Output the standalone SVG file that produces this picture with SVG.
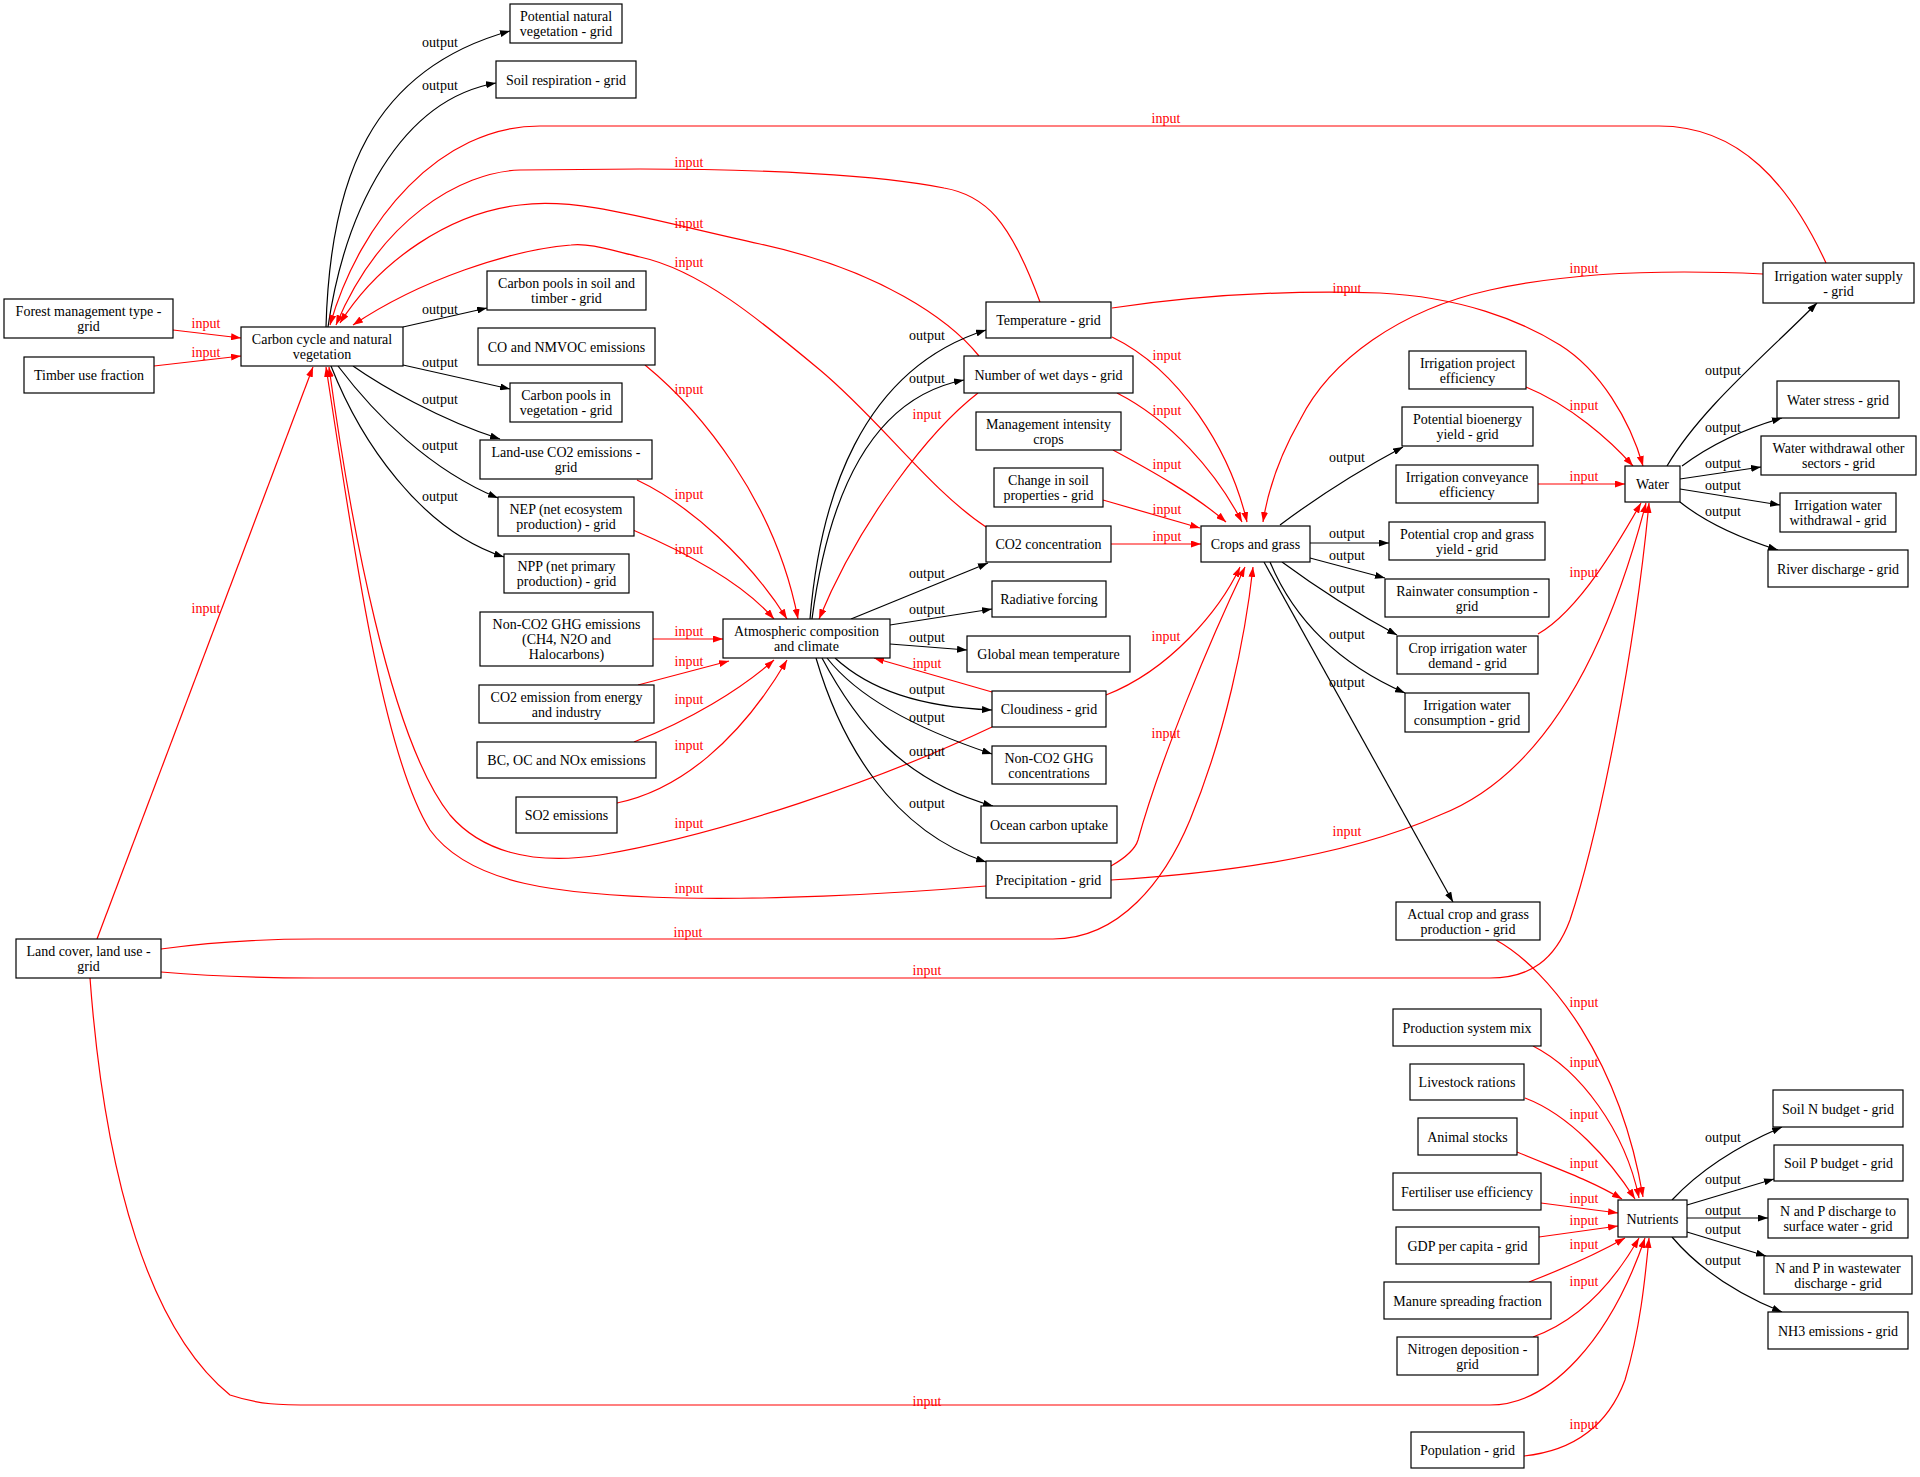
<svg xmlns="http://www.w3.org/2000/svg" width="1920" height="1477" viewBox="0 0 1920 1477">
<style>
.n rect{fill:#fff;stroke:#000;stroke-width:1.2}
.n text,.lb text{font-family:"Liberation Serif","Times New Roman",serif;font-size:14px;text-anchor:middle}
.n text{fill:#000}
.e path{fill:none;stroke-width:1.2}
.e .i{stroke:#f00;marker-end:url(#ar)}
.e .o{stroke:#000;marker-end:url(#ab)}
.lb .li{fill:#f00}
.lb .lo{fill:#000}
</style>
<defs>
<marker id="ab" viewBox="0 0 10 7" refX="10" refY="3.5" markerWidth="10" markerHeight="7" markerUnits="userSpaceOnUse" orient="auto"><path d="M0,0 L10,3.5 L0,7 z" fill="#000"/></marker>
<marker id="ar" viewBox="0 0 10 7" refX="10" refY="3.5" markerWidth="10" markerHeight="7" markerUnits="userSpaceOnUse" orient="auto"><path d="M0,0 L10,3.5 L0,7 z" fill="#f00"/></marker>
</defs>
<rect width="1920" height="1477" fill="#fff"/>
<g id="connectors" class="e">
<path class="o" d="M326,327 C330,180 370,70 510,31"/>
<path class="o" d="M328,327 C345,210 400,100 496,83"/>
<path class="o" d="M403,327 L487,308"/>
<path class="o" d="M403,365 L510,389"/>
<path class="o" d="M353,366 C380,385 440,420 500,439"/>
<path class="o" d="M338,366 C375,415 430,470 498,498"/>
<path class="o" d="M331,366 C360,440 420,530 504,557"/>
<path class="i" d="M173,330 L241,338"/>
<path class="i" d="M154,366 L241,356"/>
<path class="i" d="M1826,263 C1790,185 1740,126 1659,126 L540,126 C440,126 360,220 330,325"/>
<path class="i" d="M1040,302 C1010,220 985,195 944,188 C880,175 760,169 640,169 L520,170 C460,172 380,220 336,325"/>
<path class="i" d="M979,356 C950,320 880,270 760,244 C650,220 580,197 520,205 C450,213 380,260 340,323"/>
<path class="i" d="M986,527 C930,490 880,420 820,370 C760,320 700,270 640,257 C610,250 590,243 571,245 C510,250 420,280 353,325"/>
<path class="i" d="M97,939 L313,367"/>
<path class="i" d="M992,727 C880,780 720,835 600,855 C530,866 480,850 450,815 C390,740 350,520 329,367"/>
<path class="i" d="M986,886 C880,895 760,900 680,898 C560,895 470,885 430,830 C380,750 350,520 326,367"/>
<path class="i" d="M645,365 C700,410 775,500 798,619"/>
<path class="i" d="M637,480 C690,505 750,560 787,619"/>
<path class="i" d="M633,530 C680,550 740,580 774,619"/>
<path class="i" d="M978,393 C930,430 860,520 819,619"/>
<path class="i" d="M653,639 L723,639"/>
<path class="i" d="M638,685 L729,661"/>
<path class="i" d="M634,742 C690,720 740,690 774,660"/>
<path class="i" d="M617,803 C680,790 740,740 787,660"/>
<path class="i" d="M992,692 L874,658"/>
<path class="o" d="M810,619 C820,500 860,370 986,330"/>
<path class="o" d="M812,619 C825,520 860,400 964,380"/>
<path class="o" d="M851,619 L988,563"/>
<path class="o" d="M890,625 L992,609"/>
<path class="o" d="M890,644 L967,650"/>
<path class="o" d="M835,658 C870,690 920,707 992,710"/>
<path class="o" d="M827,658 C860,700 920,730 992,754"/>
<path class="o" d="M822,658 C855,720 900,780 993,806"/>
<path class="o" d="M816,658 C840,740 890,830 986,862"/>
<path class="i" d="M1112,337 C1180,370 1230,450 1247,522"/>
<path class="i" d="M1117,393 C1170,420 1215,470 1242,522"/>
<path class="i" d="M1113,450 C1150,470 1195,495 1226,522"/>
<path class="i" d="M1103,500 L1200,528"/>
<path class="i" d="M1111,544 L1201,544"/>
<path class="i" d="M1106,695 C1170,670 1220,610 1240,567"/>
<path class="i" d="M1111,866 C1125,858 1135,850 1138,840 C1160,760 1210,640 1245,567"/>
<path class="i" d="M161,949 C220,941 270,939 315,939 L1053,939 C1120,939 1165,880 1190,820 C1225,735 1245,640 1253,567"/>
<path class="i" d="M1763,274 C1680,270 1580,270 1490,290 C1400,310 1330,360 1300,420 C1280,455 1268,490 1263,522"/>
<path class="i" d="M1112,308 C1200,295 1290,290 1380,293 C1460,297 1520,320 1560,345 C1600,370 1630,420 1643,466"/>
<path class="i" d="M1526,387 C1570,405 1610,440 1633,466"/>
<path class="i" d="M1538,484 L1625,484"/>
<path class="i" d="M1538,634 C1580,610 1620,540 1641,503"/>
<path class="i" d="M1111,880 C1230,873 1350,855 1440,815 C1530,780 1600,680 1646,503"/>
<path class="i" d="M161,972 C220,977 270,978 315,978 L1490,978 C1530,978 1555,960 1570,920 C1600,830 1635,650 1649,503"/>
<path class="o" d="M1280,525 C1320,495 1360,470 1403,447"/>
<path class="o" d="M1310,543 L1389,543"/>
<path class="o" d="M1310,558 L1385,578"/>
<path class="o" d="M1282,562 C1320,590 1360,615 1397,635"/>
<path class="o" d="M1270,562 C1290,610 1330,660 1405,693"/>
<path class="o" d="M1264,562 L1453,902"/>
<path class="o" d="M1667,466 C1700,410 1760,360 1817,303"/>
<path class="o" d="M1682,466 C1710,445 1740,430 1782,418"/>
<path class="o" d="M1680,479 L1761,467"/>
<path class="o" d="M1680,489 L1780,505"/>
<path class="o" d="M1680,502 C1700,518 1730,535 1778,550"/>
<path class="i" d="M1496,940 C1550,970 1620,1060 1643,1197"/>
<path class="i" d="M1533,1046 C1580,1070 1625,1130 1639,1198"/>
<path class="i" d="M1525,1098 C1570,1115 1610,1160 1635,1199"/>
<path class="i" d="M1517,1152 C1560,1170 1590,1180 1622,1199"/>
<path class="i" d="M1541,1203 L1618,1213"/>
<path class="i" d="M1539,1237 L1618,1226"/>
<path class="i" d="M1529,1282 C1565,1268 1595,1255 1625,1238"/>
<path class="i" d="M1533,1337 C1580,1320 1615,1280 1639,1238"/>
<path class="i" d="M90,978 C105,1180 150,1330 230,1395 C260,1405 280,1405 315,1405 L1490,1405 C1550,1405 1610,1340 1645,1238"/>
<path class="i" d="M1524,1456 C1580,1450 1610,1420 1625,1380 C1640,1330 1645,1280 1649,1238"/>
<path class="o" d="M1672,1200 C1700,1170 1740,1145 1782,1127"/>
<path class="o" d="M1687,1205 L1774,1179"/>
<path class="o" d="M1687,1218 L1768,1218"/>
<path class="o" d="M1687,1232 L1766,1256"/>
<path class="o" d="M1672,1237 C1700,1270 1740,1295 1782,1312"/>
</g>
<g id="edge-labels" class="lb">
<text class="lo" x="440" y="47">output</text>
<text class="lo" x="440" y="90">output</text>
<text class="lo" x="440" y="314">output</text>
<text class="lo" x="440" y="367">output</text>
<text class="lo" x="440" y="404">output</text>
<text class="lo" x="440" y="450">output</text>
<text class="lo" x="440" y="501">output</text>
<text class="li" x="206" y="328">input</text>
<text class="li" x="206" y="357">input</text>
<text class="li" x="1166" y="123">input</text>
<text class="li" x="689" y="167">input</text>
<text class="li" x="689" y="228">input</text>
<text class="li" x="689" y="267">input</text>
<text class="li" x="206" y="613">input</text>
<text class="li" x="689" y="828">input</text>
<text class="li" x="689" y="893">input</text>
<text class="li" x="689" y="394">input</text>
<text class="li" x="689" y="499">input</text>
<text class="li" x="689" y="554">input</text>
<text class="li" x="689" y="636">input</text>
<text class="li" x="689" y="666">input</text>
<text class="li" x="689" y="704">input</text>
<text class="li" x="689" y="750">input</text>
<text class="li" x="927" y="419">input</text>
<text class="li" x="927" y="668">input</text>
<text class="lo" x="927" y="340">output</text>
<text class="lo" x="927" y="383">output</text>
<text class="lo" x="927" y="578">output</text>
<text class="lo" x="927" y="614">output</text>
<text class="lo" x="927" y="642">output</text>
<text class="lo" x="927" y="694">output</text>
<text class="lo" x="927" y="722">output</text>
<text class="lo" x="927" y="756">output</text>
<text class="lo" x="927" y="808">output</text>
<text class="li" x="1167" y="360">input</text>
<text class="li" x="1167" y="415">input</text>
<text class="li" x="1167" y="469">input</text>
<text class="li" x="1167" y="514">input</text>
<text class="li" x="1167" y="541">input</text>
<text class="li" x="1166" y="641">input</text>
<text class="li" x="1166" y="738">input</text>
<text class="li" x="688" y="937">input</text>
<text class="li" x="1584" y="273">input</text>
<text class="li" x="1347" y="293">input</text>
<text class="li" x="1584" y="410">input</text>
<text class="li" x="1584" y="481">input</text>
<text class="li" x="1584" y="577">input</text>
<text class="li" x="1347" y="836">input</text>
<text class="li" x="927" y="975">input</text>
<text class="lo" x="1347" y="462">output</text>
<text class="lo" x="1347" y="538">output</text>
<text class="lo" x="1347" y="560">output</text>
<text class="lo" x="1347" y="593">output</text>
<text class="lo" x="1347" y="639">output</text>
<text class="lo" x="1347" y="687">output</text>
<text class="lo" x="1723" y="375">output</text>
<text class="lo" x="1723" y="432">output</text>
<text class="lo" x="1723" y="468">output</text>
<text class="lo" x="1723" y="490">output</text>
<text class="lo" x="1723" y="516">output</text>
<text class="li" x="1584" y="1007">input</text>
<text class="li" x="1584" y="1067">input</text>
<text class="li" x="1584" y="1119">input</text>
<text class="li" x="1584" y="1168">input</text>
<text class="li" x="1584" y="1203">input</text>
<text class="li" x="1584" y="1225">input</text>
<text class="li" x="1584" y="1249">input</text>
<text class="li" x="1584" y="1286">input</text>
<text class="li" x="927" y="1406">input</text>
<text class="li" x="1584" y="1429">input</text>
<text class="lo" x="1723" y="1142">output</text>
<text class="lo" x="1723" y="1184">output</text>
<text class="lo" x="1723" y="1215">output</text>
<text class="lo" x="1723" y="1234">output</text>
<text class="lo" x="1723" y="1265">output</text>
</g>
<g id="n1" class="n"><rect x="510" y="4" width="112" height="39"/><text x="566" y="21">Potential natural</text><text x="566" y="36">vegetation - grid</text></g>
<g id="n2" class="n"><rect x="496" y="61" width="140" height="37"/><text x="566" y="84.5">Soil respiration - grid</text></g>
<g id="n3" class="n"><rect x="4" y="299" width="169" height="39"/><text x="88.5" y="316">Forest management type -</text><text x="88.5" y="331">grid</text></g>
<g id="n4" class="n"><rect x="24" y="357" width="130" height="36"/><text x="89" y="380">Timber use fraction</text></g>
<g id="n5" class="n"><rect x="241" y="327" width="162" height="39"/><text x="322" y="344">Carbon cycle and natural</text><text x="322" y="359">vegetation</text></g>
<g id="n6" class="n"><rect x="487" y="271" width="159" height="39"/><text x="566.5" y="288">Carbon pools in soil and</text><text x="566.5" y="303">timber - grid</text></g>
<g id="n7" class="n"><rect x="478" y="328" width="177" height="37"/><text x="566.5" y="351.5">CO and NMVOC emissions</text></g>
<g id="n8" class="n"><rect x="510" y="383" width="112" height="39"/><text x="566" y="400">Carbon pools in</text><text x="566" y="415">vegetation - grid</text></g>
<g id="n9" class="n"><rect x="480" y="440" width="172" height="39"/><text x="566" y="457">Land-use CO2 emissions -</text><text x="566" y="472">grid</text></g>
<g id="n10" class="n"><rect x="498" y="497" width="136" height="39"/><text x="566" y="514">NEP (net ecosystem</text><text x="566" y="529">production) - grid</text></g>
<g id="n11" class="n"><rect x="504" y="554" width="125" height="39"/><text x="566.5" y="571">NPP (net primary</text><text x="566.5" y="586">production) - grid</text></g>
<g id="n12" class="n"><rect x="480" y="612" width="173" height="54"/><text x="566.5" y="629">Non-CO2 GHG emissions</text><text x="566.5" y="644">(CH4, N2O and</text><text x="566.5" y="659">Halocarbons)</text></g>
<g id="n13" class="n"><rect x="479" y="685" width="175" height="38"/><text x="566.5" y="701.5">CO2 emission from energy</text><text x="566.5" y="716.5">and industry</text></g>
<g id="n14" class="n"><rect x="477" y="742" width="179" height="36"/><text x="566.5" y="765">BC, OC and NOx emissions</text></g>
<g id="n15" class="n"><rect x="516" y="797" width="101" height="36"/><text x="566.5" y="820">SO2 emissions</text></g>
<g id="n16" class="n"><rect x="16" y="939" width="145" height="39"/><text x="88.5" y="956">Land cover, land use -</text><text x="88.5" y="971">grid</text></g>
<g id="n17" class="n"><rect x="723" y="619" width="167" height="39"/><text x="806.5" y="636">Atmospheric composition</text><text x="806.5" y="651">and climate</text></g>
<g id="n18" class="n"><rect x="986" y="302" width="125" height="36"/><text x="1048.5" y="325">Temperature - grid</text></g>
<g id="n19" class="n"><rect x="964" y="356" width="169" height="37"/><text x="1048.5" y="379.5">Number of wet days - grid</text></g>
<g id="n20" class="n"><rect x="976" y="412" width="145" height="38"/><text x="1048.5" y="428.5">Management intensity</text><text x="1048.5" y="443.5">crops</text></g>
<g id="n21" class="n"><rect x="994" y="468" width="109" height="39"/><text x="1048.5" y="485">Change in soil</text><text x="1048.5" y="500">properties - grid</text></g>
<g id="n22" class="n"><rect x="986" y="526" width="125" height="36"/><text x="1048.5" y="549">CO2 concentration</text></g>
<g id="n23" class="n"><rect x="992" y="581" width="114" height="36"/><text x="1049" y="604">Radiative forcing</text></g>
<g id="n24" class="n"><rect x="967" y="636" width="163" height="36"/><text x="1048.5" y="659">Global mean temperature</text></g>
<g id="n25" class="n"><rect x="992" y="691" width="114" height="36"/><text x="1049" y="714">Cloudiness - grid</text></g>
<g id="n26" class="n"><rect x="992" y="746" width="114" height="38"/><text x="1049" y="762.5">Non-CO2 GHG</text><text x="1049" y="777.5">concentrations</text></g>
<g id="n27" class="n"><rect x="981" y="806" width="136" height="37"/><text x="1049" y="829.5">Ocean carbon uptake</text></g>
<g id="n28" class="n"><rect x="986" y="861" width="125" height="37"/><text x="1048.5" y="884.5">Precipitation - grid</text></g>
<g id="n29" class="n"><rect x="1201" y="526" width="109" height="36"/><text x="1255.5" y="549">Crops and grass</text></g>
<g id="n30" class="n"><rect x="1409" y="351" width="117" height="38"/><text x="1467.5" y="367.5">Irrigation project</text><text x="1467.5" y="382.5">efficiency</text></g>
<g id="n31" class="n"><rect x="1402" y="407" width="131" height="39"/><text x="1467.5" y="424">Potential bioenergy</text><text x="1467.5" y="439">yield - grid</text></g>
<g id="n32" class="n"><rect x="1396" y="465" width="142" height="38"/><text x="1467" y="481.5">Irrigation conveyance</text><text x="1467" y="496.5">efficiency</text></g>
<g id="n33" class="n"><rect x="1389" y="522" width="156" height="38"/><text x="1467" y="538.5">Potential crop and grass</text><text x="1467" y="553.5">yield - grid</text></g>
<g id="n34" class="n"><rect x="1385" y="579" width="164" height="38"/><text x="1467" y="595.5">Rainwater consumption -</text><text x="1467" y="610.5">grid</text></g>
<g id="n35" class="n"><rect x="1397" y="636" width="141" height="38"/><text x="1467.5" y="652.5">Crop irrigation water</text><text x="1467.5" y="667.5">demand - grid</text></g>
<g id="n36" class="n"><rect x="1405" y="693" width="124" height="39"/><text x="1467" y="710">Irrigation water</text><text x="1467" y="725">consumption - grid</text></g>
<g id="n37" class="n"><rect x="1396" y="902" width="144" height="38"/><text x="1468" y="918.5">Actual crop and grass</text><text x="1468" y="933.5">production - grid</text></g>
<g id="n38" class="n"><rect x="1625" y="466" width="55" height="36"/><text x="1652.5" y="489">Water</text></g>
<g id="n39" class="n"><rect x="1763" y="263" width="151" height="40"/><text x="1838.5" y="280.5">Irrigation water supply</text><text x="1838.5" y="295.5">- grid</text></g>
<g id="n40" class="n"><rect x="1777" y="381" width="122" height="37"/><text x="1838" y="404.5">Water stress - grid</text></g>
<g id="n41" class="n"><rect x="1761" y="436" width="155" height="39"/><text x="1838.5" y="453">Water withdrawal other</text><text x="1838.5" y="468">sectors - grid</text></g>
<g id="n42" class="n"><rect x="1780" y="493" width="116" height="39"/><text x="1838" y="510">Irrigation water</text><text x="1838" y="525">withdrawal - grid</text></g>
<g id="n43" class="n"><rect x="1768" y="550" width="140" height="37"/><text x="1838" y="573.5">River discharge - grid</text></g>
<g id="n44" class="n"><rect x="1393" y="1009" width="148" height="37"/><text x="1467" y="1032.5">Production system mix</text></g>
<g id="n45" class="n"><rect x="1410" y="1064" width="114" height="36"/><text x="1467" y="1087">Livestock rations</text></g>
<g id="n46" class="n"><rect x="1418" y="1118" width="99" height="37"/><text x="1467.5" y="1141.5">Animal stocks</text></g>
<g id="n47" class="n"><rect x="1393" y="1173" width="148" height="37"/><text x="1467" y="1196.5">Fertiliser use efficiency</text></g>
<g id="n48" class="n"><rect x="1396" y="1227" width="143" height="37"/><text x="1467.5" y="1250.5">GDP per capita - grid</text></g>
<g id="n49" class="n"><rect x="1384" y="1282" width="167" height="37"/><text x="1467.5" y="1305.5">Manure spreading fraction</text></g>
<g id="n50" class="n"><rect x="1397" y="1337" width="141" height="38"/><text x="1467.5" y="1353.5">Nitrogen deposition -</text><text x="1467.5" y="1368.5">grid</text></g>
<g id="n51" class="n"><rect x="1411" y="1432" width="113" height="36"/><text x="1467.5" y="1455">Population - grid</text></g>
<g id="n52" class="n"><rect x="1618" y="1200" width="69" height="37"/><text x="1652.5" y="1223.5">Nutrients</text></g>
<g id="n53" class="n"><rect x="1773" y="1090" width="130" height="37"/><text x="1838" y="1113.5">Soil N budget - grid</text></g>
<g id="n54" class="n"><rect x="1774" y="1145" width="129" height="36"/><text x="1838.5" y="1168">Soil P budget - grid</text></g>
<g id="n55" class="n"><rect x="1768" y="1199" width="140" height="39"/><text x="1838" y="1216">N and P discharge to</text><text x="1838" y="1231">surface water - grid</text></g>
<g id="n56" class="n"><rect x="1764" y="1256" width="148" height="38"/><text x="1838" y="1272.5">N and P in wastewater</text><text x="1838" y="1287.5">discharge - grid</text></g>
<g id="n57" class="n"><rect x="1768" y="1312" width="140" height="37"/><text x="1838" y="1335.5">NH3 emissions - grid</text></g>
</svg>
